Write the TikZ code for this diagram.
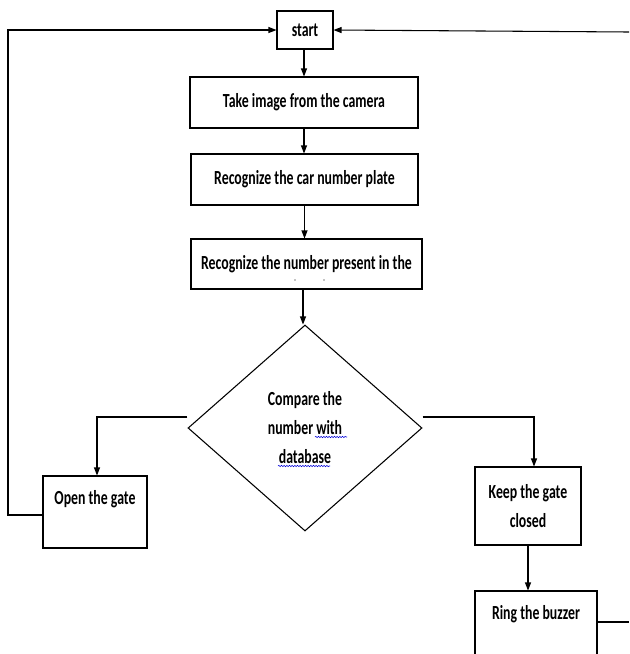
\documentclass[tikz,border=0pt]{standalone}
\usepackage{fontspec}
\setmainfont{Carlito}[FakeStretch=0.69]
\usetikzlibrary{positioning,shapes.geometric,arrows.meta,decorations.pathmorphing}

\tikzset{
  flowbox/.style={draw,inner sep=0pt,align=center},
  decision/.style={draw,diamond,aspect=1.14,inner sep=0pt,align=center},
  spellcheck/.style={blue!85!black,line width=0.4pt,decorate,
    decoration={snake,amplitude=0.5pt,segment length=2pt}},
}

\begin{document}
\begin{tikzpicture}[x=0.75pt,y=0.75pt,yscale=-1,xscale=1,
  font=\fontsize{15}{21.75}\selectfont\bfseries,line width=0.8pt,
  >={Triangle[length=6pt,width=4.5pt]}]
\useasboundingbox (0,0) rectangle (629,654);

%Shape: Rectangle
\node[flowbox,minimum width=42pt,minimum height=28.5pt] (start) at (305,30) {start};
%Shape: Rectangle
\node[flowbox,minimum width=171pt,minimum height=38.25pt] (camera) at (304,102.5) {Take image from the camera};
%Shape: Rectangle
\node[flowbox,minimum width=170.25pt,minimum height=38.25pt] (plate) at (304.5,179.5) {Recognize the car number plate};
%Shape: Rectangle
\node[flowbox,minimum width=173.25pt,minimum height=37.5pt] (reading) at (306.5,264) {Recognize the number present in the};
\fill ([xshift=-8.6pt,yshift=12pt]reading.center) circle (0.5pt);
\fill ([xshift=13.1pt,yshift=12pt]reading.center) circle (0.5pt);
%Shape: Diamond
\node[decision,minimum width=175.5pt,minimum height=154.5pt] (compare) at (305,428) {Compare the\\number with\\database};
% wavy underlines
\draw[spellcheck] ([xshift=7.5pt,yshift=6.75pt]compare.center) -- ([xshift=31.5pt,yshift=6.75pt]compare.center);
\draw[spellcheck] ([xshift=-20.25pt,yshift=28.5pt]compare.center) -- ([xshift=18.75pt,yshift=28.5pt]compare.center);
%Shape: Rectangle
\node[flowbox,minimum width=78pt,minimum height=54pt] (opengate) at (95,512) {Open the gate\\\mbox{}};
%Shape: Rectangle
\node[flowbox,minimum width=79.5pt,minimum height=58.5pt] (keepshut) at (528,506) {Keep the gate\\closed};
%Shape: Rectangle
\node[flowbox,minimum width=91.5pt,minimum height=54pt] (buzzer) at (536,627) {Ring the buzzer\\\mbox{}};

\coordinate (leftrail) at (8,515);
\coordinate (rightrail) at (629,32);
\coordinate (buzzend) at (629,622);

%Straight Lines
\draw[->] (camera.north |- start.south) -- (camera.north);
\draw[->] (camera.south) -- (camera.south |- plate.north);
\draw[->] (plate.south) -- (plate.south |- reading.north);
\draw[->] ([xshift=-1.5pt]compare.north |- reading.south) -- ([xshift=-1.5pt]compare.north);
\draw[->] ([yshift=-8.25pt]compare.west) -| ([xshift=1.5pt]opengate.north);
\draw[->] ([yshift=-8.25pt]compare.east) -| ([xshift=4.5pt]keepshut.north);
\draw[->] (keepshut.south) -- (keepshut.south |- buzzer.north);
\draw ([yshift=-3.75pt]buzzer.east) -- (buzzend);
\draw[->] ([yshift=2.25pt]opengate.west) -- (leftrail) |- (start.west);
\draw[->] (rightrail) -- (start.east);
\end{tikzpicture}
\end{document}
